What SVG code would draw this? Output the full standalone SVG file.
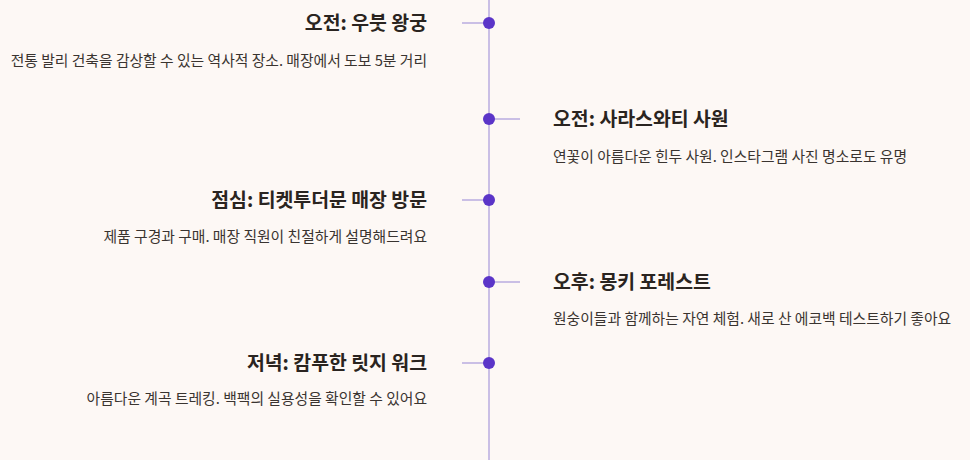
<svg xmlns="http://www.w3.org/2000/svg" width="970" height="460" viewBox="0 0 970 460">
<style>
.t{font-family:"Noto Sans CJK KR","Noto Sans",sans-serif;font-size:19.4px;font-weight:700;fill:#2a2420}
.d{font-family:"Noto Sans CJK KR","Noto Sans",sans-serif;font-size:14.8px;fill:#3a3430}
.l{text-anchor:end}
.c{stroke:#b9addf;stroke-width:1.5;fill:none}
.dot{fill:#5b35c8}
</style>
<rect width="970" height="460" fill="#fdf8f5"/>
<g id="connectors">
<line class="c" x1="489" y1="0" x2="489" y2="460"/>
<line class="c" x1="462" y1="23" x2="489" y2="23"/>
<line class="c" x1="489" y1="119" x2="520" y2="119"/>
<line class="c" x1="462" y1="200" x2="489" y2="200"/>
<line class="c" x1="489" y1="282" x2="520" y2="282"/>
<line class="c" x1="462" y1="363" x2="489" y2="363"/>
</g>
<g id="n1"><circle class="dot" cx="489" cy="23" r="6"/><text class="t l" x="427" y="30">오전: 우붓 왕궁</text><text class="d l" x="427" y="66">전통 발리 건축을 감상할 수 있는 역사적 장소. 매장에서 도보 5분 거리</text></g>
<g id="n2"><circle class="dot" cx="489" cy="119" r="6"/><text class="t" x="553" y="126">오전: 사라스와티 사원</text><text class="d" x="553" y="162">연꽃이 아름다운 힌두 사원. 인스타그램 사진 명소로도 유명</text></g>
<g id="n3"><circle class="dot" cx="489" cy="200" r="6"/><text class="t l" x="427" y="207">점심: 티켓투더문 매장 방문</text><text class="d l" x="427" y="242">제품 구경과 구매. 매장 직원이 친절하게 설명해드려요</text></g>
<g id="n4"><circle class="dot" cx="489" cy="282" r="6"/><text class="t" x="553" y="289">오후: 몽키 포레스트</text><text class="d" x="553" y="324">원숭이들과 함께하는 자연 체험. 새로 산 에코백 테스트하기 좋아요</text></g>
<g id="n5"><circle class="dot" cx="489" cy="363" r="6"/><text class="t l" x="427" y="370">저녁: 캄푸한 릿지 워크</text><text class="d l" x="427" y="404">아름다운 계곡 트레킹. 백팩의 실용성을 확인할 수 있어요</text></g>
</svg>
